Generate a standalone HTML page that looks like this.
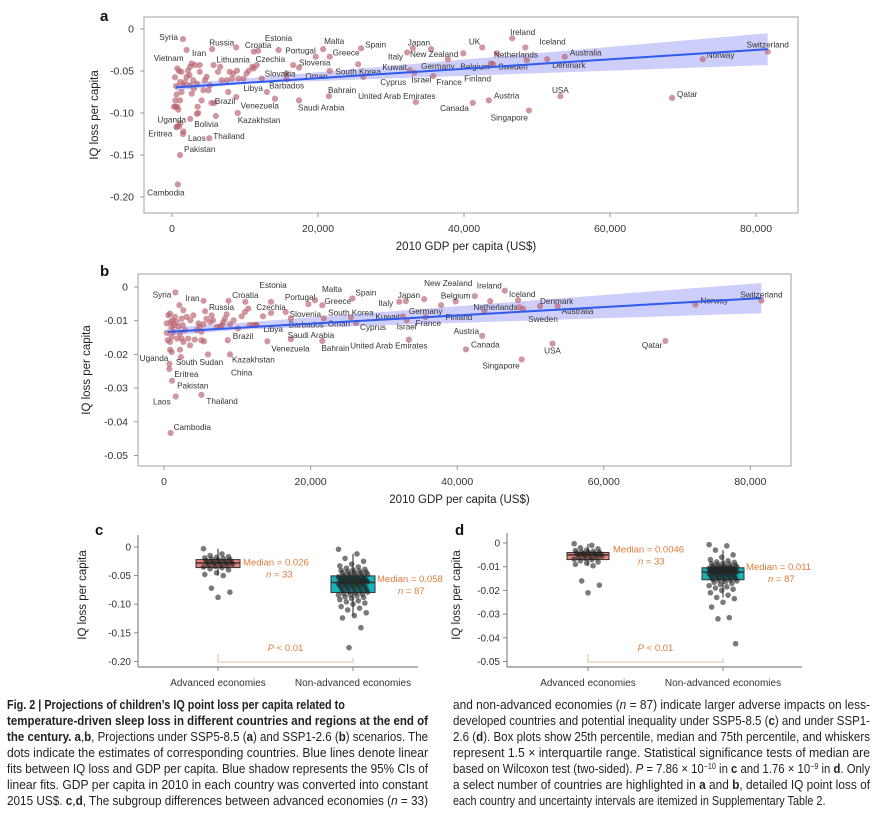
<!DOCTYPE html>
<html><head><meta charset="utf-8">
<style>
body{margin:0;background:#fff;width:881px;height:817px;overflow:hidden;position:relative;font-family:"Liberation Sans",sans-serif;}
svg{position:absolute;left:0;top:0}
.cap{position:absolute;top:697px;width:421px;font-family:"Liberation Sans",sans-serif;font-size:12.6px;color:#222;}
.cap div{height:16px;line-height:16px;white-space:nowrap;}
.cap span.ln{display:inline-block;transform-origin:0 50%;white-space:nowrap;}
.cap sup{font-size:8px;line-height:0;vertical-align:4px}
</style></head><body>
<svg id="fig" width="881" height="817" viewBox="0 0 881 817" font-family="Liberation Sans, sans-serif"></svg>
<div class="cap" style="left:7px">
<div class="nl"><span class="ln"><b>Fig. 2 | Projections of children’s IQ point loss per capita related to</b></span></div>
<div><span class="ln"><b>temperature-driven sleep loss in different countries and regions at the end of</b></span></div>
<div><span class="ln"><b>the century. a</b>,<b>b</b>, Projections under SSP5-8.5 (<b>a</b>) and SSP1-2.6 (<b>b</b>) scenarios. The</span></div>
<div><span class="ln">dots indicate the estimates of corresponding countries. Blue lines denote linear</span></div>
<div><span class="ln">fits between IQ loss and GDP per capita. Blue shadow represents the 95% CIs of</span></div>
<div><span class="ln">linear fits. GDP per capita in 2010 in each country was converted into constant</span></div>
<div><span class="ln">2015 US$. <b>c</b>,<b>d</b>, The subgroup differences between advanced economies (<i>n</i> = 33)</span></div>
</div>
<div class="cap" style="left:453px;width:417px">
<div><span class="ln">and non-advanced economies (<i>n</i> = 87) indicate larger adverse impacts on less-</span></div>
<div><span class="ln">developed countries and potential inequality under SSP5-8.5 (<b>c</b>) and under SSP1-</span></div>
<div><span class="ln">2.6 (<b>d</b>). Box plots show 25th percentile, median and 75th percentile, and whiskers</span></div>
<div><span class="ln">represent 1.5 × interquartile range. Statistical significance tests of median are</span></div>
<div><span class="ln">based on Wilcoxon test (two-sided). <i>P</i> = 7.86 × 10<sup>−10</sup> in <b>c</b> and 1.76 × 10<sup>−9</sup> in <b>d</b>. Only</span></div>
<div><span class="ln">a select number of countries are highlighted in <b>a</b> and <b>b</b>, detailed IQ point loss of</span></div>
<div class="nl"><span class="ln">each country and uncertainty intervals are itemized in Supplementary Table 2.</span></div>
</div>
<script>
// ===== Panel a data (GDP in thousand US$) =====
const namesA=["Syria","Vietnam","Russia","Iran","Croatia","Lithuania","Estonia","Czechia","Slovenia","Slovakia","Barbados","Portugal","Malta","Greece","Spain","Oman","South Korea","Cyprus","Libya","Venezuela","Saudi Arabia","Bahrain","Brazil","Kazakhstan","Bolivia","Uganda","Eritrea","Laos","Thailand","Pakistan","Cambodia","Italy","Japan","New Zealand","Kuwait","Israel","United Arab Emirates","France","Germany","Belgium","Finland","UK","Canada","Austria","Ireland","Iceland","Netherlands","Sweden","Denmark","Australia","Norway","Switzerland","USA","Qatar","Singapore"];
const gdpLA=[1.5,2.0,8.8,5.5,11.8,11.2,14.6,16.6,17.4,15.7,15.7,19.7,20.7,21.6,25.9,21.6,25.5,26.2,13,14.1,17.4,21.5,8.8,9,2.5,0.7,0.6,1.5,5.1,1.1,0.8,32.2,33.0,35.5,32.6,33.2,33.4,35.8,37.8,39.9,43.7,42.5,41.2,43.4,46.6,48.4,44.5,44.0,51.4,53.8,72.7,81.6,53.2,68.5,48.9];
const valLA=[-0.012,-0.025,-0.022,-0.024,-0.026,-0.027,-0.025,-0.043,-0.046,-0.053,-0.06,-0.033,-0.024,-0.033,-0.023,-0.05,-0.042,-0.057,-0.075,-0.083,-0.085,-0.08,-0.081,-0.1,-0.107,-0.116,-0.117,-0.125,-0.13,-0.15,-0.185,-0.028,-0.023,-0.024,-0.049,-0.052,-0.087,-0.056,-0.036,-0.029,-0.041,-0.022,-0.088,-0.085,-0.011,-0.022,-0.029,-0.042,-0.036,-0.033,-0.036,-0.027,-0.08,-0.082,-0.097];
const gdpUA=[0.41,0.55,0.73,0.96,1.1,1.3,0.64,0.46,0.73,0.86,1.3,1.1,1.55,1.78,2.0,2.2,2.47,2.7,2.4,2.47,2.7,3.0,3.15,3.4,3.5,3.6,3.8,4.05,4.3,4.5,4.75,5.0,5.2,5.4,5.7,5.8,6.0,6.3,6.6,6.8,7.5,7.7,7.9,8.2,8.4,8.9,9.1,9.8,10.2,10.5,11.0,11.2,11.6,12.3,0.46,0.27,1.1,0.96,1.55,3.4,2.9,3.8,48.6];
const valUA=[-0.0575,-0.068,-0.047,-0.05,-0.063,-0.051,-0.078,-0.085,-0.0925,-0.096,-0.075,-0.085,-0.067,-0.063,-0.057,-0.0496,-0.045,-0.041,-0.055,-0.067,-0.077,-0.071,-0.043,-0.065,-0.0925,-0.1,-0.051,-0.085,-0.073,-0.061,-0.057,-0.073,-0.067,-0.088,-0.043,-0.088,-0.1036,-0.051,-0.045,-0.061,-0.061,-0.075,-0.051,-0.059,-0.053,-0.0496,-0.059,-0.059,-0.053,-0.0496,-0.045,-0.047,-0.043,-0.059,-0.0925,-0.0925,-0.112,-0.116,-0.122,-0.101,-0.061,-0.043,-0.037];
const fitXA=[0.5,81.6];
const fitYA=[-0.0695,-0.024];
const bandXA=[0.5,10,81.6];
const bandHiA=[-0.0655,-0.059,-0.005];
const bandLoA=[-0.0735,-0.065,-0.043];
const labelOffsetA=[["end",-5,-2],["end",-3,8],["end",-2,-5],["end",-6,4],["middle",0,-6],["end",-4,8],["middle",0,-12],["end",-8,-6],["start",0,-5],["end",9,0],["middle",0,6],["end",0,-6],["start",1,-8],["start",3,-4],["start",4,-4],["end",-2,5],["middle",0,7],["start",17,5],["end",-4,-4],["end",4,7],["start",-1,7],["start",-1,-6],["end",-1,4],["start",0,7],["start",4,5],["end",9,-7],["end",-4,6],["start",5,4],["start",4,-2],["start",4,-6],["middle",-12,8],["end",-4,4],["middle",6,-6],["middle",3,5],["end",-3,-3],["start",-3,7],["middle",-19,-6],["start",3,6],["middle",-10,7],["start",-3,13],["end",0,15],["end",-2,-6],["end",-4,5],["start",5,-5],["start",-2,-6],["start",14,-6],["start",-3,1],["start",5,2],["start",5,6],["start",5,-4],["start",4,-4],["middle",0,-7],["middle",0,-6],["start",5,-4],["end",-1,7]];

// ===== Panel b data =====
const namesB=["Syria","Iran","Russia","Croatia","Estonia","Czechia","Slovenia","Portugal","Malta","Greece","Spain","South Korea","Barbados","Oman","Cyprus","Libya","Venezuela","Saudi Arabia","Bahrain","Brazil","Kazakhstan","China","South Sudan","Uganda","Eritrea","Pakistan","Laos","Thailand","Cambodia","Italy","Japan","New Zealand","Kuwait","Germany","Israel","France","United Arab Emirates","Belgium","Finland","Austria","Canada","Singapore","Ireland","Iceland","Netherlands","Sweden","Denmark","Australia","Norway","Switzerland","Qatar","USA"];
const gdpLB=[1.55,5.4,8.8,11.1,14.6,14.6,16.6,19.7,20.6,21.6,25.7,25.5,17.3,21.8,26.2,12.6,14.1,17.3,21.6,8.7,9.0,6.0,2.3,0.73,0.73,1.1,1.6,5.1,0.9,32.1,33.0,35.5,32.6,35.7,33.1,37.8,33.4,39.8,43.7,43.4,41.2,48.8,46.5,48.3,48.5,49.0,51.3,53.7,72.5,81.5,68.4,53.0];
const valLB=[-0.0016,-0.0041,-0.0041,-0.0044,-0.0044,-0.0077,-0.0074,-0.0051,-0.0039,-0.0054,-0.0034,-0.009,-0.0093,-0.0093,-0.0107,-0.0113,-0.0161,-0.0155,-0.016,-0.0158,-0.02,-0.02,-0.0208,-0.0228,-0.0243,-0.0278,-0.0325,-0.032,-0.0433,-0.0044,-0.0042,-0.0036,-0.0087,-0.0089,-0.0099,-0.0054,-0.0156,-0.0043,-0.0074,-0.0145,-0.0185,-0.0215,-0.0011,-0.0039,-0.006,-0.0065,-0.0057,-0.0057,-0.0052,-0.004,-0.016,-0.0168];
const gdpUB=[0.37,0.59,0.82,0.91,1.05,0.37,0.5,0.82,1.05,1.27,1.18,1.36,1.5,1.73,1.96,2.1,2.18,2.41,2.55,2.64,2.41,2.64,2.86,3.1,3.3,3.55,3.6,4.0,4.2,4.46,4.7,4.9,5.1,5.4,5.46,5.6,5.1,5.8,6.3,6.5,6.7,7.2,7.6,7.9,8.1,8.3,8.55,9.0,9.5,10.1,10.6,11.05,11.5,11.7,12.2,12.6,13.5,0.82,1.05,1.8,2.18,42.4,44.5];
const valUB=[-0.0108,-0.0084,-0.0079,-0.0104,-0.0118,-0.0136,-0.0158,-0.0163,-0.0148,-0.0133,-0.0099,-0.0113,-0.0089,-0.0104,-0.0118,-0.0054,-0.0138,-0.0094,-0.0113,-0.0069,-0.0153,-0.0163,-0.0128,-0.0089,-0.0153,-0.0173,-0.0099,-0.0084,-0.0156,-0.0128,-0.0108,-0.0118,-0.0133,-0.011,-0.0161,-0.0072,-0.0158,-0.0094,-0.0104,-0.0084,-0.0099,-0.0118,-0.0118,-0.0113,-0.0104,-0.0094,-0.0081,-0.011,-0.0099,-0.0123,-0.0087,-0.0074,-0.0064,-0.0113,-0.0113,-0.0113,-0.0087,-0.0186,-0.0193,-0.0153,-0.0186,-0.0027,-0.0042];
const fitXB=[0.5,81.5];
const fitYB=[-0.0133,-0.0033];
const bandXB=[0.5,10,81.5];
const bandHiB=[-0.0121,-0.0107,0.0012];
const bandLoB=[-0.0145,-0.0127,-0.0078];
const labelOffsetB=[["end",-4,2],["end",-4,-3],["middle",-7,6],["middle",0,-7],["middle",2,-17],["middle",0,-6],["start",4,2],["end",7,-7],["start",7,-11],["start",2,-4],["start",3,-6],["middle",0,-5],["start",-2,6],["start",4,5],["start",4,4],["start",7,4],["start",4,7],["start",-3,-4],["start",-1,7],["start",5,-4],["start",2,5],["start",23,18],["start",-5,5],["end",-1,-6],["start",5,5],["start",5,5],["end",-5,5],["start",5,6],["start",3,-6],["end",-6,1],["middle",3,-6],["middle",24,-16],["end",-3,0],["middle",0,-6],["middle",0,6],["end",0,18],["middle",-20,6],["middle",0,-6],["end",-12,5],["end",-3,-5],["start",5,-5],["end",-2,6],["end",-3,-5],["start",-9,-6],["end",-2,0],["start",5,10],["start",0,-5],["start",4,5],["start",5,-4],["middle",0,-6],["end",-3,4],["middle",0,7]];

// ===== Panel c, d data =====
const cats=["Advanced economies","Non-advanced economies"];
const advC=[-0.003,-0.012,-0.015,-0.017,-0.018,-0.019,-0.02,-0.021,-0.022,-0.023,-0.024,-0.025,-0.025,-0.026,-0.026,-0.027,-0.028,-0.029,-0.03,-0.031,-0.032,-0.033,-0.034,-0.035,-0.036,-0.038,-0.04,-0.045,-0.048,-0.05,-0.072,-0.079,-0.088];
const nonC=[-0.004,-0.012,-0.02,-0.025,-0.03,-0.033,-0.035,-0.037,-0.039,-0.04,-0.041,-0.042,-0.043,-0.044,-0.044,-0.045,-0.046,-0.047,-0.048,-0.049,-0.05,-0.05,-0.051,-0.052,-0.052,-0.053,-0.054,-0.055,-0.055,-0.056,-0.056,-0.057,-0.057,-0.058,-0.058,-0.058,-0.059,-0.059,-0.06,-0.06,-0.061,-0.061,-0.062,-0.062,-0.063,-0.063,-0.064,-0.065,-0.065,-0.066,-0.067,-0.067,-0.068,-0.069,-0.07,-0.07,-0.071,-0.072,-0.073,-0.074,-0.075,-0.076,-0.077,-0.078,-0.079,-0.08,-0.081,-0.082,-0.083,-0.084,-0.085,-0.087,-0.088,-0.09,-0.092,-0.094,-0.096,-0.098,-0.1,-0.104,-0.107,-0.11,-0.115,-0.12,-0.124,-0.141,-0.176];
const advD=[-0.0003,-0.001,-0.002,-0.0025,-0.003,-0.0032,-0.0035,-0.0038,-0.004,-0.004,-0.0042,-0.0044,-0.0045,-0.0046,-0.0046,-0.0048,-0.005,-0.0052,-0.0055,-0.0058,-0.006,-0.0062,-0.0065,-0.0068,-0.007,-0.0075,-0.008,-0.0085,-0.009,-0.0096,-0.016,-0.0178,-0.021];
const nonD=[-0.0007,-0.0012,-0.003,-0.005,-0.006,-0.007,-0.0075,-0.008,-0.0082,-0.0085,-0.0088,-0.009,-0.0092,-0.0094,-0.0096,-0.0098,-0.01,-0.0101,-0.0102,-0.0103,-0.0104,-0.0105,-0.0106,-0.0107,-0.0108,-0.0109,-0.011,-0.011,-0.0111,-0.0112,-0.0113,-0.0113,-0.0114,-0.0115,-0.0116,-0.0117,-0.0118,-0.0119,-0.012,-0.0121,-0.0122,-0.0123,-0.0124,-0.0125,-0.0126,-0.0127,-0.0128,-0.013,-0.0131,-0.0132,-0.0134,-0.0135,-0.0137,-0.0139,-0.014,-0.0142,-0.0144,-0.0146,-0.0148,-0.015,-0.0152,-0.0154,-0.0156,-0.0158,-0.016,-0.0163,-0.0166,-0.017,-0.0175,-0.018,-0.0185,-0.019,-0.0195,-0.02,-0.021,-0.022,-0.023,-0.0235,-0.025,-0.027,-0.0315,-0.032,-0.0425];
const medTextC=["Median = 0.026","Median = 0.058"];
const medTextD=["Median = 0.0046","Median = 0.011"];
const nText=["n = 33","n = 87"];
const xTicksAB=[0,20000,40000,60000,80000];
const xTickLabels=["0","20,000","40,000","60,000","80,000"];
const yTicksA=[0,-0.05,-0.10,-0.15,-0.20];
const yTicksALabels=["0","-0.05","-0.10","-0.15","-0.20"];
const yTicksB=[0,-0.01,-0.02,-0.03,-0.04,-0.05];
const yTicksBLabels=["0","-0.01","-0.02","-0.03","-0.04","-0.05"];
const yTicksC=[0,-0.05,-0.10,-0.15,-0.20];
const yTicksCLabels=["0","-0.05","-0.10","-0.15","-0.20"];
const yTicksD=[0,-0.01,-0.02,-0.03,-0.04,-0.05];
const yTicksDLabels=["0","-0.01","-0.02","-0.03","-0.04","-0.05"];

const NS="http://www.w3.org/2000/svg";
const svg=document.getElementById('fig');
function mk(tag,attrs,parent){const e=document.createElementNS(NS,tag);for(const k in attrs)e.setAttribute(k,attrs[k]);(parent||svg).appendChild(e);return e;}
function txt(s,attrs,parent){const e=mk('text',attrs,parent);e.textContent=s;return e;}

const xa=g=>172+g*7.3, ya=v=>29-v*840;
const xb=g=>164+g*7.33, yb=v=>287-v*3370;

function scatterPanel(opt){
  const g=mk('g',{});
  
  
  const fr=mk('rect',{x:opt.fx,y:opt.fy,width:opt.fw,height:opt.fh,fill:'none',stroke:'#b0b0b0','stroke-width':1.2},g);
  
  
  let pts=[];
  for(let i=0;i<opt.bandX.length;i++)pts.push(opt.xs(opt.bandX[i])+','+opt.ys(opt.bandHi[i]));
  for(let i=opt.bandX.length-1;i>=0;i--)pts.push(opt.xs(opt.bandX[i])+','+opt.ys(opt.bandLo[i]));
  const band=mk('polygon',{points:pts.join(' '),fill:'#c9c9fb',opacity:0.9},g);
  
  
  for(let i=0;i<opt.gu.length;i++){
    const c=mk('circle',{cx:opt.xs(opt.gu[i]),cy:opt.ys(opt.vu[i]),r:3.1,fill:'#b7606c','fill-opacity':0.65},g);
    
    
  }
  for(let i=0;i<opt.gl.length;i++){
    const x=opt.xs(opt.gl[i]),y=opt.ys(opt.vl[i]);
    const c=mk('circle',{cx:x,cy:y,r:3.1,fill:'#b7606c','fill-opacity':0.65},g);
    
    
    const o=opt.off[i]||["start",4,-4];
    const t=txt(opt.names[i],{x:x+o[1],y:y+o[2]+3,'text-anchor':o[0],'font-size':8.2,fill:'#333'},g);
    
    
  }
  const fl=mk('line',{x1:opt.xs(opt.fitX[0]),y1:opt.ys(opt.fitY[0]),x2:opt.xs(opt.fitX[1]),y2:opt.ys(opt.fitY[1]),stroke:'#2f5bea','stroke-width':2},g);
  
  
  xTicksAB.forEach((v,i)=>{
    const x=opt.xs(v/1000);
    mk('line',{x1:x,y1:opt.fy+opt.fh,x2:x,y2:opt.fy+opt.fh+4,stroke:'#999'},g);
    const t=txt(xTickLabels[i],{x:x,y:opt.fy+opt.fh+19,'text-anchor':'middle','font-size':10.5,fill:'#333'},g);
    
    
  });
  opt.yt.forEach((v,i)=>{
    const y=opt.ys(v);
    mk('line',{x1:opt.fx-4,y1:y,x2:opt.fx,y2:y,stroke:'#999'},g);
    const t=txt(opt.ytl[i],{x:opt.fx-10,y:y+3.5,'text-anchor':'end','font-size':10.5,fill:'#333'},g);
    
    
  });
  const xt=txt('2010 GDP per capita (US$)',{x:opt.fx+opt.fw/2-5,y:opt.fy+opt.fh+37,'text-anchor':'middle','font-size':11.5,fill:'#222'},g);
  
  
  const yt=txt('IQ loss per capita',{x:0,y:0,'text-anchor':'middle','font-size':11.5,fill:'#222',transform:`translate(${opt.ytx},${opt.fy+opt.fh/2}) rotate(-90)`},g);
  
  
  const pl=txt(opt.letter,{x:opt.lx,y:opt.ly,'font-size':15,'font-weight':'bold',fill:'#111'},g);
  
  
}
scatterPanel({name:'panel-a',fx:144,fy:17,fw:654,fh:196,xs:xa,ys:ya,gu:gdpUA,vu:valUA,gl:gdpLA,vl:valLA,names:namesA,off:labelOffsetA,fitX:fitXA,fitY:fitYA,bandX:bandXA,bandHi:bandHiA,bandLo:bandLoA,yt:yTicksA,ytl:yTicksALabels,ytx:98,letter:'a',lx:100,ly:21});
scatterPanel({name:'panel-b',fx:138,fy:274,fw:653,fh:192,xs:xb,ys:yb,gu:gdpUB,vu:valUB,gl:gdpLB,vl:valLB,names:namesB,off:labelOffsetB,fitX:fitXB,fitY:fitYB,bandX:bandXB,bandHi:bandHiB,bandLo:bandLoB,yt:yTicksB,ytl:yTicksBLabels,ytx:90,letter:'b',lx:100,ly:276});

function quant(arr,q){const s=[...arr].sort((a,b)=>a-b);const p=(s.length-1)*q;const lo=Math.floor(p),hi=Math.ceil(p);return s[lo]+(s[hi]-s[lo])*(p-lo);}
function boxPanel(opt){
  const g=mk('g',{});
  
  
  const ys=opt.ys;
  mk('line',{x1:opt.ax,y1:opt.top,x2:opt.ax,y2:opt.by,stroke:'#888','stroke-width':1.2},g);
  mk('line',{x1:opt.ax,y1:opt.by,x2:opt.rx,y2:opt.by,stroke:'#888','stroke-width':1.2},g);
  opt.yt.forEach((v,i)=>{
    const y=ys(v);
    mk('line',{x1:opt.ax-4,y1:y,x2:opt.ax,y2:y,stroke:'#888'},g);
    const t=txt(opt.ytl[i],{x:opt.ax-7,y:y+3.5,'text-anchor':'end','font-size':10,fill:'#333'},g);
    
    
  });
  const yt=txt('IQ loss per capita',{x:0,y:0,'text-anchor':'middle','font-size':11.5,fill:'#222',transform:`translate(${opt.ytx},595) rotate(-90)`},g);
  
  
  const fills=['#e8847a','#17b3b8'];
  [opt.adv,opt.non].forEach((data,k)=>{
    const cx=opt.cx[k];
    mk('line',{x1:cx,y1:opt.by,x2:cx,y2:opt.by+4,stroke:'#888'},g);
    const cl=txt(cats[k],{x:cx,y:686,'text-anchor':'middle','font-size':10,fill:'#333'},g);
    
    
    const q1=quant(data,0.25),q3=quant(data,0.75),md=quant(data,0.5),iqr=q3-q1;
    const hi=Math.max(...data.filter(v=>v<=q3+1.5*iqr)),lo=Math.min(...data.filter(v=>v>=q1-1.5*iqr));
    const w=mk('line',{x1:cx,y1:ys(hi),x2:cx,y2:ys(lo),stroke:'#222','stroke-width':1},g);
    
    
    const b=mk('rect',{x:cx-opt.bw/2,y:ys(q3),width:opt.bw,height:ys(q1)-ys(q3),fill:fills[k],stroke:'#333','stroke-width':1},g);
    
    
    mk('line',{x1:cx-opt.bw/2,y1:ys(md),x2:cx+opt.bw/2,y2:ys(md),stroke:'#333','stroke-width':1.5},g);
    data.forEach((v,i)=>{
      const jit=(((i*37)%23)-11)/11*opt.bw*0.33;
      const c=mk('circle',{cx:cx+jit,cy:ys(v),r:2.8,fill:'#222','fill-opacity':0.6},g);
      
      
    });
    const mt=txt(opt.med[k],{x:opt.mx[k],y:ys(q3)+opt.mdy[k],'font-size':9.5,fill:'#e07a3a'},g);
    
    
    const nt=txt('',{x:opt.mx[k]+opt.nd[k],y:ys(q3)+opt.mdy[k]+12,'font-size':9.5,fill:'#e07a3a'},g);
    nt.innerHTML='<tspan font-style="italic">n</tspan> = '+nText[k].split('= ')[1];
    
    
  });
  mk('path',{d:`M${opt.cx[0]},654 V662 H${opt.cx[1]} V658`,fill:'none',stroke:'#ebd6c4','stroke-width':1.5},g);
  const pt=txt('',{x:(opt.cx[0]+opt.cx[1])/2,y:651,'text-anchor':'middle','font-size':9.5,fill:'#e07a3a'},g);
  pt.innerHTML='<tspan font-style="italic">P</tspan> &lt; 0.01';
  
  
  const pl=txt(opt.letter,{x:opt.lx,y:535,'font-size':15,'font-weight':'bold',fill:'#111'},g);
  
  
}
boxPanel({name:'panel-c',ax:138,top:535,by:667,rx:418,ys:v=>547-v*572,yt:yTicksC,ytl:yTicksCLabels,ytx:86,adv:advC,non:nonC,cx:[218,353],bw:44,med:medTextC,mx:[243,377],mdy:[6,6],nd:[23,21],letter:'c',lx:95});
boxPanel({name:'panel-d',ax:507,top:533,by:667,rx:802,ys:v=>543-v*2370,yt:yTicksD,ytl:yTicksDLabels,ytx:460,adv:advD,non:nonD,cx:[588,723],bw:42,med:medTextD,mx:[613,746],mdy:[0,2],nd:[25,22],letter:'d',lx:455});

// caption line fitting (condensed typeface emulation)
document.querySelectorAll('.cap').forEach(cap=>{
  const W=cap.clientWidth;
  let lastScale=0.85;
  cap.querySelectorAll('div').forEach(d=>{
    const s=d.querySelector('.ln');
    const w=s.getBoundingClientRect().width;
    let sc=W/w;
    if(d.classList.contains('nl')) sc=Math.min(sc,0.86);
    s.style.transform='scaleX('+sc+')';
  });
});
</script>
</body></html>
